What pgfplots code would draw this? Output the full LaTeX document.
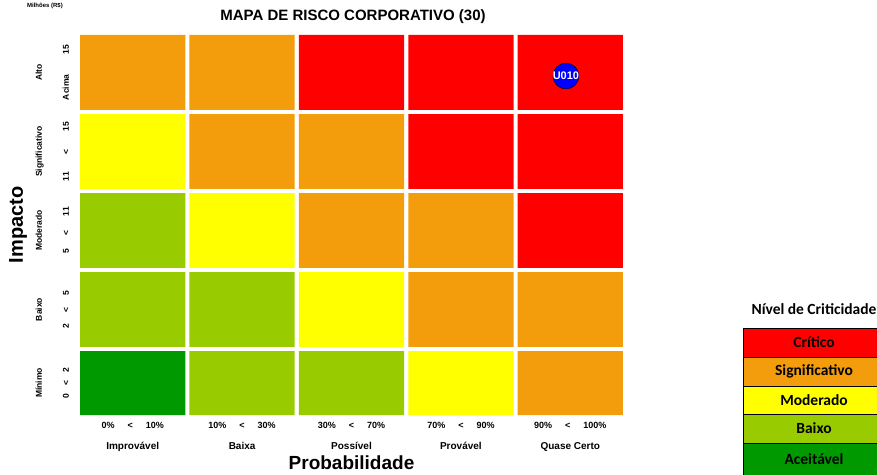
\documentclass[border=0pt]{standalone}
\usepackage{pgfplots}
\pgfplotsset{compat=1.18}
\usepackage{fontspec}
\setmainfont{Liberation Sans}
\newfontfamily\calibri{Carlito}
\definecolor{cRed}{RGB}{255,0,0}
\definecolor{cOrange}{RGB}{244,157,12}
\definecolor{cYellow}{RGB}{255,255,0}
\definecolor{cYGreen}{RGB}{153,204,0}
\definecolor{cGreen}{RGB}{0,153,0}
\newcommand{\riskcell}[5]{\addplot[fill=#5, draw=none, forget plot] coordinates {(#1,#2) (#3,#2) (#3,#4) (#1,#4) (#1,#2)};}
\newcommand{\xlab}[3]{{\fontsize{9}{11}\selectfont\bfseries #1\hspace{13pt}<\hspace{13pt}#2}\\[9pt]{\fontsize{10}{12}\selectfont\bfseries #3}}
\newcommand{\ylab}[2]{{\fontsize{8.5}{10}\selectfont\bfseries #1}\\[15pt]{\fontsize{8.5}{10}\selectfont\bfseries #2}}
\begin{document}
\begin{tikzpicture}
\begin{axis}[
  at={(78pt,59pt)}, anchor=south west,
  width=547pt, height=380pt, scale only axis,
  xmin=0, xmax=5, ymin=0.165, ymax=4.975,
  hide axis, clip=false,
]
% row Minimo
\riskcell{0.019}{0.165}{0.981}{0.973}{cGreen}
\riskcell{1.019}{0.165}{1.981}{0.973}{cYGreen}
\riskcell{2.019}{0.165}{2.981}{0.973}{cYGreen}
\riskcell{3.019}{0.165}{3.981}{0.973}{cYellow}
\riskcell{4.019}{0.165}{4.981}{0.973}{cOrange}
% row Baixo
\riskcell{0.019}{1.027}{0.981}{1.973}{cYGreen}
\riskcell{1.019}{1.027}{1.981}{1.973}{cYGreen}
\riskcell{2.019}{1.027}{2.981}{1.973}{cYellow}
\riskcell{3.019}{1.027}{3.981}{1.973}{cOrange}
\riskcell{4.019}{1.027}{4.981}{1.973}{cOrange}
% row Moderado
\riskcell{0.019}{2.027}{0.981}{2.973}{cYGreen}
\riskcell{1.019}{2.027}{1.981}{2.973}{cYellow}
\riskcell{2.019}{2.027}{2.981}{2.973}{cOrange}
\riskcell{3.019}{2.027}{3.981}{2.973}{cOrange}
\riskcell{4.019}{2.027}{4.981}{2.973}{cRed}
% row Significativo
\riskcell{0.019}{3.027}{0.981}{3.973}{cYellow}
\riskcell{1.019}{3.027}{1.981}{3.973}{cOrange}
\riskcell{2.019}{3.027}{2.981}{3.973}{cOrange}
\riskcell{3.019}{3.027}{3.981}{3.973}{cRed}
\riskcell{4.019}{3.027}{4.981}{3.973}{cRed}
% row Alto
\riskcell{0.019}{4.027}{0.981}{4.975}{cOrange}
\riskcell{1.019}{4.027}{1.981}{4.975}{cOrange}
\riskcell{2.019}{4.027}{2.981}{4.975}{cRed}
\riskcell{3.019}{4.027}{3.981}{4.975}{cRed}
\riskcell{4.019}{4.027}{4.981}{4.975}{cRed}
\addplot[only marks, mark=*, mark size=13pt, mark options={fill=blue, draw=black}] coordinates {(4.46,4.456)};
\coordinate (u010) at (axis cs:4.46,4.456);
% x category labels
\node[anchor=north, align=center] at (axis cs:0.5,0.115) {\xlab{0\%}{10\%}{Improvável}};
\node[anchor=north, align=center] at (axis cs:1.5,0.115) {\xlab{10\%}{30\%}{Baixa}};
\node[anchor=north, align=center] at (axis cs:2.5,0.115) {\xlab{30\%}{70\%}{Possível}};
\node[anchor=north, align=center] at (axis cs:3.5,0.115) {\xlab{70\%}{90\%}{Provável}};
\node[anchor=north, align=center] at (axis cs:4.5,0.115) {\xlab{90\%}{100\%}{Quase Certo}};
% y category labels
\node[rotate=90, anchor=south, align=center] at (axis cs:-0.05,0.57) {\ylab{Mínimo}{0\hspace{8pt}<\hspace{8pt}2}};
\node[rotate=90, anchor=south, align=center] at (axis cs:-0.05,1.5) {\ylab{Baixo}{2\hspace{12pt}<\hspace{12pt}5}};
\node[rotate=90, anchor=south, align=center] at (axis cs:-0.05,2.5) {\ylab{Moderado}{5\hspace{14pt}<\hspace{14pt}11}};
\node[rotate=90, anchor=south, align=center] at (axis cs:-0.05,3.5) {\ylab{Significativo}{11\hspace{18pt}<\hspace{18pt}15}};
\node[rotate=90, anchor=south, align=center] at (axis cs:-0.05,4.5) {\ylab{Alto}{Acima\hspace{20pt}15}};
\end{axis}
\node[text=white, font=\fontsize{11}{13}\selectfont\bfseries] at (u010) {U010};
\node[anchor=north, font=\fontsize{6}{7}\selectfont\bfseries] at (45pt,474pt) {Milhões (R\$)};
\node[font=\fontsize{19}{22}\selectfont\bfseries] at (351.5pt,11pt) {Probabilidade};
\node[font=\fontsize{20}{24}\selectfont\bfseries, rotate=90] at (18pt,249pt) {Impacto};
\node[font=\fontsize{15}{17}\selectfont\bfseries] at (353pt,457pt) {MAPA DE RISCO CORPORATIVO (30)};
\node[anchor=base west, font=\calibri\fontsize{15.5}{17}\selectfont\bfseries] at (748pt,160pt) {Nível de Criticidade};
\filldraw[fill=cRed, draw=black] (743pt,117pt) rectangle (890pt,146pt);
\filldraw[fill=cOrange, draw=black] (743pt,88pt) rectangle (890pt,117pt);
\filldraw[fill=cYellow, draw=black] (743pt,60pt) rectangle (890pt,88pt);
\filldraw[fill=cYGreen, draw=black] (743pt,31pt) rectangle (890pt,60pt);
\filldraw[fill=cGreen, draw=black] (743pt,-5pt) rectangle (890pt,31pt);
\node[font=\calibri\fontsize{15.5}{17}\selectfont\bfseries] at (814pt,131.5pt) {Crítico};
\node[font=\calibri\fontsize{15.5}{17}\selectfont\bfseries] at (814pt,102.5pt) {Significativo};
\node[font=\calibri\fontsize{15.5}{17}\selectfont\bfseries] at (814pt,74pt) {Moderado};
\node[font=\calibri\fontsize{15.5}{17}\selectfont\bfseries] at (814pt,45.5pt) {Baixo};
\node[font=\calibri\fontsize{15.5}{17}\selectfont\bfseries] at (814pt,15pt) {Aceitável};
\pgfresetboundingbox
\path[use as bounding box] (0pt,0pt) rectangle (877pt,474pt);
\end{tikzpicture}
\end{document}
